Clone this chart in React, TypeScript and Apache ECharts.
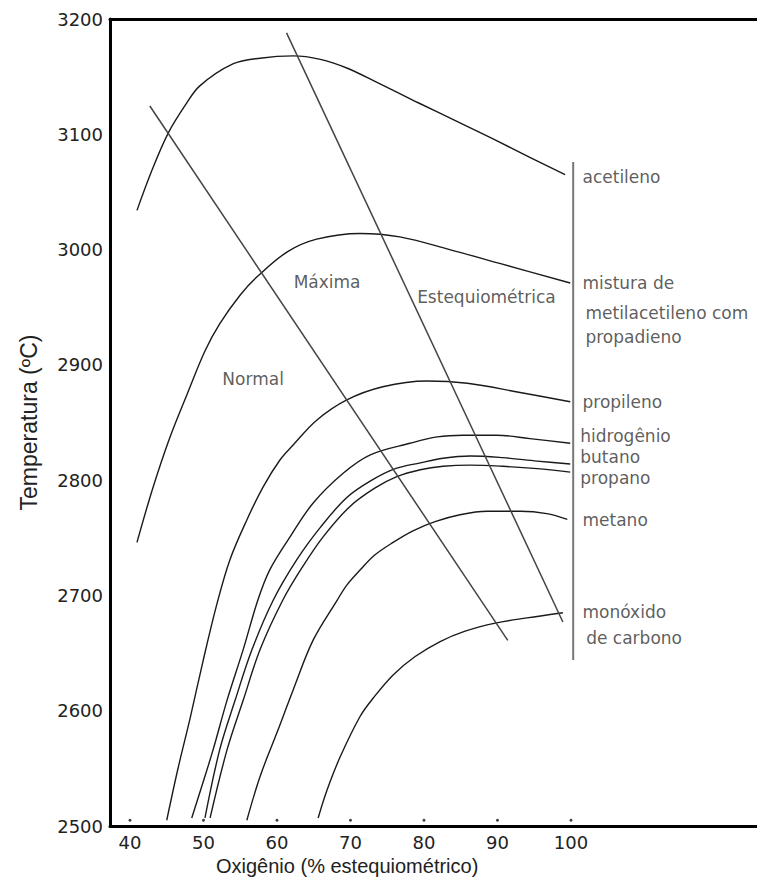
import React, { useEffect, useRef } from "react";
import * as echarts from "echarts";

const xTicks = [40, 50, 60, 70, 80, 90, 100];
const xMin = 37.28;
const xMax = 125.31;
const yMin = 2500;
const yMax = 3200;
const dotLevel = 2505;

const acetileno = [[40.95,3034],[43.0,3069],[45.2,3101],[47.5,3125],[49.5,3142],[54.0,3161],[57.7,3166],[62.2,3168],[65.9,3165],[69.5,3157.5],[73.6,3145],[79.0,3128],[84.9,3110],[89.4,3096],[94.4,3080],[99.2,3065]];
const mistura = [[40.95,2746],[43.1,2793],[45.4,2836.6],[47.8,2875],[50.2,2912],[52.2,2935.5],[55.0,2960.6],[57.4,2977],[61.4,2998],[65.4,3009],[71.3,3014],[76.7,3011],[83.5,3000],[90.3,2988],[99.9,2971]];
const propileno = [[45.0,2505],[46.5,2549],[48.2,2594],[49.9,2642],[51.8,2692],[53.6,2731],[55.9,2765.5],[58.1,2794],[60.4,2817.5],[62.2,2830.5],[65.4,2852],[69.5,2869.6],[74.4,2881],[80.4,2886],[85.9,2884],[92.7,2876.5],[99.9,2868]];
const hidrogenio = [[48.4,2507],[49.5,2529],[51.3,2566],[53.2,2609],[55.4,2653],[57.4,2696],[59.0,2722],[61.8,2751],[64.9,2780],[69.0,2806],[72.7,2822],[78.1,2832],[81.8,2837.5],[85.3,2839],[89.9,2839],[94.4,2836],[99.9,2832]];
const butano = [[50.2,2507],[52.2,2566],[54.3,2609],[56.6,2653],[59.5,2696],[62.7,2731],[65.9,2759],[69.5,2785],[72.9,2800],[76.1,2810],[79.5,2815],[82.6,2819],[86.3,2821],[90.7,2819.5],[95.4,2816.5],[99.9,2814]];
const propano = [[50.9,2507],[53.2,2566],[55.4,2609],[57.7,2653],[60.8,2696],[63.5,2725],[66.3,2751],[69.9,2777],[73.3,2793],[76.3,2803],[79.5,2809],[82.6,2812],[86.3,2813],[90.7,2812],[95.4,2810],[99.9,2807]];
const metano = [[55.9,2505],[57.7,2543],[60.0,2581],[62.2,2618],[64.9,2661],[68.2,2696],[69.5,2709],[71.3,2722],[73.3,2735],[75.8,2746],[78.5,2756],[81.5,2764],[84.9,2770],[88.6,2773],[93.1,2773],[96.7,2771],[99.5,2766]];
const monoxido = [[65.6,2507],[66.8,2531],[68.6,2560],[71.3,2595],[73.1,2611],[75.8,2631],[78.8,2647],[82.2,2660],[85.6,2669],[89.7,2676],[94.0,2680.5],[98.9,2685]];

const normalLine = [[42.7,3124.5],[91.4,2661]];
const esteqLine = [[61.3,3188],[98.9,2677]];
const bracketLine = [[100.3,3076],[100.3,2644]];

const rightLabels: [string, number, number][] = [
  ["acetileno", 101.5, 3063],
  ["mistura de", 101.5, 2971],
  ["metilacetileno com", 101.9, 2945],
  ["propadieno", 101.9, 2924],
  ["propileno", 101.5, 2868],
  ["hidrogênio", 101.2, 2838],
  ["butano", 101.2, 2820],
  ["propano", 101.2, 2802],
  ["metano", 101.5, 2765.5],
  ["monóxido", 101.5, 2686],
  ["de carbono", 102.0, 2663],
];
const innerLabels: [string, number, number][] = [
  ["Máxima", 62.2, 2972],
  ["Estequiométrica", 79.0, 2959],
  ["Normal", 52.5, 2888],
];

const SANS = "'Liberation Sans', Arial, sans-serif";
const WIDE = "'DejaVu Sans', Verdana, sans-serif";

export default function App() {
  const ref = useRef<HTMLDivElement>(null);
  useEffect(() => {
    if (!ref.current) return;
    const chart = echarts.init(ref.current, null, { renderer: "svg" });
    const curve = (name: string, data: number[][]) => ({
      name,
      type: "line",
      data,
      smooth: 0.35,
      showSymbol: false,
      symbol: "none",
      lineStyle: { color: "#1a1a1a", width: 1.4 },
      silent: true,
    });
    const straight = (name: string, data: number[][], color: string, width: number) => ({
      name,
      type: "line",
      data,
      showSymbol: false,
      symbol: "none",
      lineStyle: { color, width },
      silent: true,
    });
    const allLabels = [...rightLabels, ...innerLabels].map(([t, x, y]) => ({ name: t, value: [x, y] }));
    chart.setOption({
      animation: false,
      backgroundColor: "#ffffff",
      grid: { left: 110, top: 19, right: 0, bottom: 62, show: false },
      xAxis: [
        {
          type: "value",
          min: xMin,
          max: xMax,
          position: "bottom",
          axisLine: { show: true, lineStyle: { color: "#000", width: 3 } },
          axisTick: { show: false },
          splitLine: { show: false },
          axisLabel: {
            customValues: xTicks,
            margin: 7,
            color: "#222",
            fontSize: 18,
            fontFamily: WIDE,
          },
        },
        {
          type: "value",
          min: xMin,
          max: xMax,
          position: "top",
          axisLine: { show: true, lineStyle: { color: "#000", width: 3 } },
          axisTick: { show: false },
          axisLabel: { show: false },
          splitLine: { show: false },
        },
      ],
      yAxis: {
        type: "value",
        min: yMin,
        max: yMax,
        interval: 100,
        name: "Temperatura (ºC)",
        nameLocation: "middle",
        nameGap: 70,
        nameRotate: 90,
        nameTextStyle: { fontSize: 23, color: "#222", fontFamily: SANS },
        axisLine: { show: true, onZero: false, lineStyle: { color: "#000", width: 3 } },
        axisTick: { show: false },
        splitLine: { show: false },
        axisLabel: {
          margin: 7,
          color: "#222",
          fontSize: 18,
          fontFamily: WIDE,
          formatter: (v: number) => String(v),
        },
      },
      graphic: [
        {
          type: "text",
          left: 216,
          top: 856,
          style: { text: "Oxigênio (% estequiométrico)", font: `20px ${SANS}`, fill: "#222" },
        },
      ],
      series: [
        curve("acetileno", acetileno),
        curve("mistura", mistura),
        curve("propileno", propileno),
        curve("hidrogênio", hidrogenio),
        curve("butano", butano),
        curve("propano", propano),
        curve("metano", metano),
        curve("monóxido de carbono", monoxido),
        straight("Normal", normalLine, "#444", 1.5),
        straight("Estequiométrica", esteqLine, "#444", 1.5),
        straight("bracket", bracketLine, "#777", 2),
        {
          name: "ticks",
          type: "scatter",
          data: xTicks.map((v) => [v, dotLevel]),
          symbolSize: 3,
          itemStyle: { color: "#111" },
          silent: true,
        },
        {
          name: "labels",
          type: "scatter",
          data: allLabels,
          symbolSize: 1,
          itemStyle: { color: "rgba(0,0,0,0)" },
          silent: true,
          label: {
            show: true,
            position: "right",
            distance: 0,
            formatter: (p: any) => p.name,
            color: "#333",
            fontSize: 17,
            lineHeight: 15,
            fontFamily: WIDE,
          },
        },
      ],
    });
    return () => chart.dispose();
  }, []);
  return (
    <div
      ref={ref}
      style={{ position: "fixed", left: 0, top: 0, width: 757, height: 888, background: "#fff" }}
    />
  );
}
